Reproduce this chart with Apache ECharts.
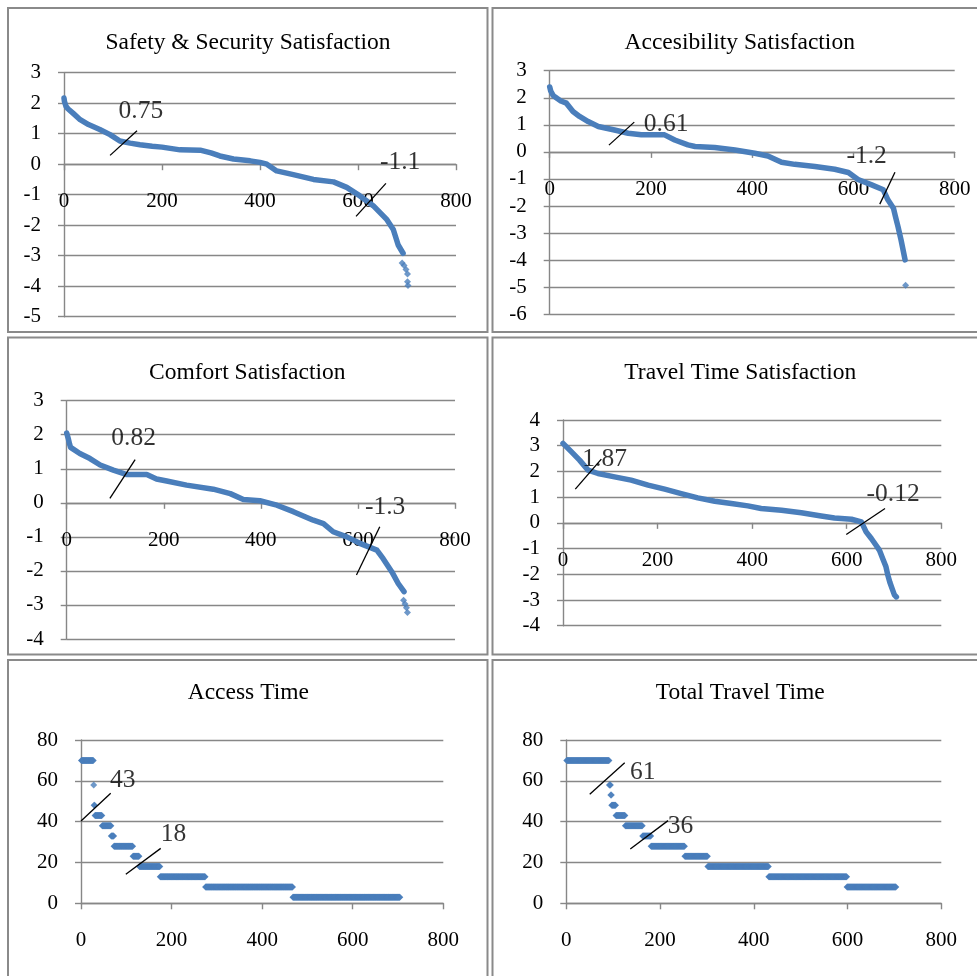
<!DOCTYPE html>
<html><head><meta charset="utf-8">
<script src="https://cdn.jsdelivr.net/npm/echarts@6/dist/echarts.min.js"></script>
<style>html,body{margin:0;padding:0;background:#fff}#c{width:977px;height:976px}</style>
</head><body><div id="c"></div>
<script>
// ---------- DATA ----------
const titles = ['Safety & Security Satisfaction','Accesibility Satisfaction','Comfort Satisfaction','Travel Time Satisfaction','Access Time','Total Travel Time'];
const xTicks = [0, 800, 200];           // min, max, interval
const yTicks = [[-5,3,1],[-6,3,1],[-4,3,1],[-4,4,1],[0,80,20],[0,80,20]];

// sorted scores (rank, value)
const safetyCurve = [[0,2.17],[1,2.05],[4,1.9],[8,1.82],[20,1.65],[33,1.46],[50,1.30],[73,1.14],[94,0.97],[114,0.76],[135,0.69],[155,0.64],[180,0.59],[200,0.56],[237,0.47],[278,0.46],[300,0.37],[318,0.27],[346,0.17],[380,0.11],[400,0.06],[414,0.0],[434,-0.22],[468,-0.34],[509,-0.50],[550,-0.58],[577,-0.76],[604,-1.04],[631,-1.36],[658,-1.80],[672,-2.14],[682,-2.65],[692,-2.92]];
const safetyDots = [[690,-3.24],[694,-3.32],[698,-3.45],[701,-3.6],[701,-3.85],[702,-3.98]];

const accessibilityCurve = [[0,2.40],[2,2.25],[7,2.08],[15,1.97],[22,1.88],[33,1.80],[46,1.49],[59,1.31],[76,1.12],[96,0.94],[128,0.81],[155,0.69],[181,0.63],[227,0.63],[247,0.44],[273,0.26],[287,0.20],[326,0.16],[366,0.07],[405,-0.05],[431,-0.15],[458,-0.38],[484,-0.46],[524,-0.54],[563,-0.64],[590,-0.76],[609,-1.02],[636,-1.22],[659,-1.40],[668,-1.77],[679,-2.08],[683,-2.39],[688,-2.76],[694,-3.25],[698,-3.62],[702,-3.99]];
const accessibilityDots = [[703,-4.93]];

const comfortCurve = [[0,2.05],[3,1.9],[6,1.72],[8,1.63],[27,1.45],[48,1.30],[69,1.11],[96,0.96],[124,0.83],[165,0.83],[185,0.70],[206,0.64],[247,0.52],[302,0.40],[337,0.27],[364,0.10],[398,0.06],[433,-0.07],[467,-0.26],[508,-0.51],[529,-0.61],[549,-0.85],[577,-1.00],[604,-1.19],[639,-1.39],[652,-1.64],[670,-2.03],[683,-2.37],[695,-2.61]];
const comfortDots = [[694,-2.86],[697,-2.97],[700,-3.08],[702,-3.22]];

const travelCurve = [[0,3.09],[18,2.76],[35,2.44],[53,2.05],[74,1.92],[109,1.79],[144,1.66],[180,1.47],[215,1.31],[250,1.14],[285,0.97],[321,0.84],[356,0.75],[391,0.66],[419,0.56],[462,0.49],[504,0.39],[546,0.27],[574,0.19],[610,0.14],[631,0.04],[641,-0.35],[652,-0.61],[662,-0.87],[669,-1.06],[676,-1.39],[683,-1.71],[687,-2.04],[691,-2.30],[696,-2.56],[701,-2.81],[705,-2.88]];
const travelDots = [];

// discrete times: value levels and how many respondents at each (in sorted order)
const accessLevels = [70,58,48,43,38,33,28,23,18,13,8,3];
const accessCounts = [27,1,2,16,20,6,42,14,46,100,193,237];
const totalLevels = [70,58,53,48,43,38,33,28,23,18,13,8];
const totalCounts = [91,3,2,9,20,37,18,72,49,130,167,105];

// annotation segments (data coordinates) and labels
const safetyAnnLines = [[[94,0.29],[149,1.10]],[[596,-1.71],[657,-0.63]]];
const safetyAnnLabels = [['0.75',157,1.72],['-1.1',686,0.05]];
const accessibilityAnnLines = [[[117,0.25],[167,1.10]],[[652,-1.93],[682,-0.75]]];
const accessibilityAnnLabels = [['0.61',230,1.03],['-1.2',626,-0.18]];
const comfortAnnLines = [[[89,0.13],[141,1.27]],[[597,-2.12],[645,-0.70]]];
const comfortAnnLabels = [['0.82',138,1.91],['-1.3',656,-0.14]];
const travelAnnLines = [[[26,1.31],[81,2.48]],[[599,-0.45],[681,0.56]]];
const travelAnnLabels = [['1.87',88,2.48],['-0.12',698,1.12]];
const accessAnnLines = [[[0,40.3],[65.6,53.9]],[[99,14.2],[176,26.9]]];
const accessAnnLabels = [['43',92,60.4],['18',204,33.9]];
const totalAnnLines = [[[50,53.4],[124.6,68.9]],[[136.5,26.6],[217,40.5]]];
const totalAnnLabels = [['61',163,64.2],['36',243.6,37.5]];

// ---------- LAYOUT / STYLE ----------
const FONT = '"Liberation Serif","Times New Roman",serif';
const GRID_C = '#878787';
const BLUE = '#4a7ebb';

function expandRuns(levels, counts) {
  const pts = []; let rank = 1;
  levels.forEach((v, i) => { for (let k = 0; k < counts[i]; k++) { pts.push([rank, v]); rank++; } });
  return pts;
}

const panels = [
  {grid:{left:64, top:72.7, width:392, height:244}, tc:[248,43], curve:safetyCurve, dots:safetyDots, ann:safetyAnnLines, lab:safetyAnnLabels},
  {grid:{left:549.7, top:70.7, width:405, height:243.6}, tc:[739.7,42.7], curve:accessibilityCurve, dots:accessibilityDots, ann:accessibilityAnnLines, lab:accessibilityAnnLabels},
  {grid:{left:66.7, top:400.7, width:388.3, height:238.3}, tc:[247.3,373.3], curve:comfortCurve, dots:comfortDots, ann:comfortAnnLines, lab:comfortAnnLabels},
  {grid:{left:563, top:420, width:378.3, height:205.7}, tc:[740.3,373.3], curve:travelCurve, dots:travelDots, ann:travelAnnLines, lab:travelAnnLabels},
  {grid:{left:81, top:740, width:362.3, height:163.3}, tc:[248.3,693.3], steps:expandRuns(accessLevels, accessCounts), ann:accessAnnLines, lab:accessAnnLabels},
  {grid:{left:566.3, top:740, width:375, height:163.3}, tc:[740.3,693.3], steps:expandRuns(totalLevels, totalCounts), ann:totalAnnLines, lab:totalAnnLabels}
];

const frames = [[8,8,479.5,324],[492.5,8,490,324],[8,337.5,479.5,317],[492.5,337.5,490,317],[8,660,479.5,330],[492.5,660,490,330]];

const grids = [], xAxes = [], yAxes = [], series = [], graphics = [];
const lineSt = {color: GRID_C, width: 1.4};
const lblSt = {fontFamily: FONT, fontSize: 21, color: '#000'};

panels.forEach((p, i) => {
  const yr = yTicks[i];
  // x axis crosses the value axis at 0 (Excel style)
  const zeroOffset = -p.grid.height * (0 - yr[0]) / (yr[1] - yr[0]);
  grids.push(Object.assign({outerBoundsMode:'none', containLabel:false}, p.grid));
  xAxes.push({gridIndex:i, type:'value', min:xTicks[0], max:xTicks[1], interval:xTicks[2],
    position:'bottom', offset:zeroOffset,
    axisLine:{show:true, onZero:false, lineStyle:lineSt},
    axisTick:{show:true, inside:false, length:6, lineStyle:lineSt},
    axisLabel:Object.assign({margin:27}, lblSt),
    splitLine:{show:false}});
  yAxes.push({gridIndex:i, type:'value', min:yr[0], max:yr[1], interval:yr[2],
    axisLine:{show:true, onZero:false, lineStyle:lineSt},
    axisTick:{show:true, inside:false, length:6, lineStyle:lineSt},
    axisLabel:Object.assign({margin:23}, lblSt),
    splitLine:{show:true, lineStyle:lineSt}});
  if (p.curve) {
    series.push({type:'line', xAxisIndex:i, yAxisIndex:i, data:p.curve, showSymbol:false, silent:true,
      lineStyle:{color:BLUE, width:5.5, cap:'round', join:'round'}, z:2});
    if (p.dots.length) series.push({type:'scatter', xAxisIndex:i, yAxisIndex:i, data:p.dots, symbol:'diamond', symbolSize:7, itemStyle:{color:BLUE}, silent:true, z:2});
  }
  if (p.steps) {
    series.push({type:'scatter', xAxisIndex:i, yAxisIndex:i, data:p.steps, symbol:'diamond', symbolSize:7, itemStyle:{color:BLUE}, silent:true, z:2, large:false});
  }
  p.ann.forEach(seg => series.push({type:'line', xAxisIndex:i, yAxisIndex:i, data:seg, showSymbol:false, silent:true,
    lineStyle:{color:'#000', width:1.3}, z:5}));
  series.push({type:'scatter', xAxisIndex:i, yAxisIndex:i, silent:true, z:6, symbolSize:1,
    itemStyle:{color:'rgba(0,0,0,0)'},
    data:p.lab.map(l => ({value:[l[1], l[2]], name:l[0]})),
    label:{show:true, position:'inside', formatter:q => q.name, fontFamily:FONT, fontSize:25.5, color:'#000'}});
  graphics.push({type:'text', x:p.tc[0], y:p.tc[1], silent:true,
    style:{text:titles[i], fill:'#000', font:'23.5px ' + FONT, align:'center', verticalAlign:'middle', textAlign:'center', textVerticalAlign:'middle'}});
});
frames.forEach(f => graphics.push({type:'rect', silent:true, shape:{x:f[0], y:f[1], width:f[2], height:f[3]},
  style:{fill:'none', stroke:'#8a8a8a', lineWidth:2}}));

const chart = echarts.init(document.getElementById('c'), null, {renderer:'canvas'});
chart.setOption({animation:false, backgroundColor:'#fff', grid:grids, xAxis:xAxes, yAxis:yAxes, series:series, graphic:graphics});
</script></body></html>
